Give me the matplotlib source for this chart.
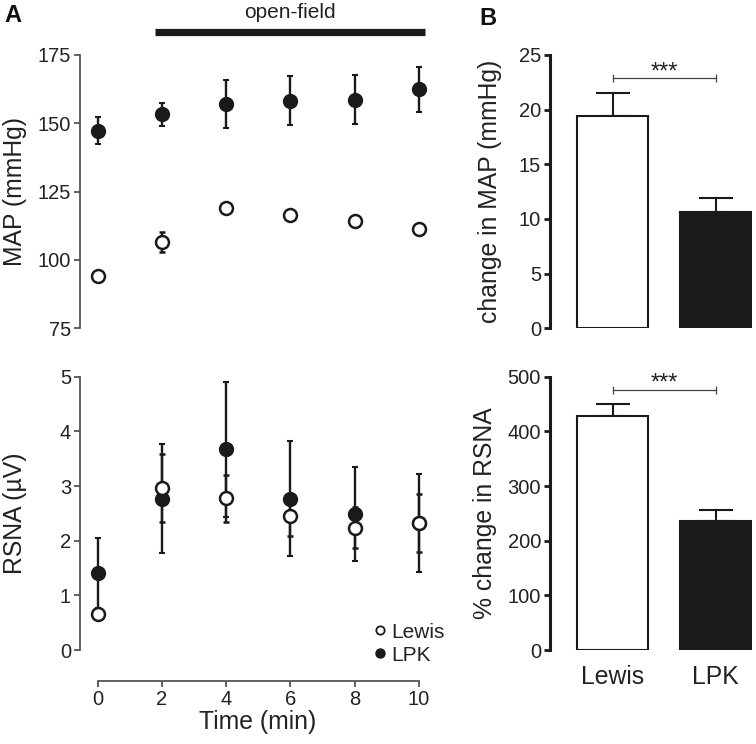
import matplotlib
matplotlib.use('Agg')
import matplotlib.pyplot as plt
from matplotlib.lines import Line2D

plt.rcParams['font.family'] = ['Liberation Sans', 'DejaVu Sans']
TXT = '#222222'
plt.rcParams['text.color'] = TXT
plt.rcParams['axes.labelcolor'] = TXT
plt.rcParams['xtick.color'] = TXT
plt.rcParams['ytick.color'] = TXT

# ---------------- data ----------------
time = [0, 2, 4, 6, 8, 10]
map_lewis = [93.9, 106.5, 118.8, 116.3, 114.1, 111.2]
map_lewis_err = [0.8, 3.5, 1.0, 1.0, 1.0, 1.7]
map_lpk = [147.3, 153.3, 156.9, 158.3, 158.6, 162.4]
map_lpk_err = [4.9, 4.2, 8.8, 9.0, 9.0, 8.3]

rsna_lewis = [0.65, 2.97, 2.78, 2.46, 2.24, 2.32]
rsna_lewis_err = [0.05, 0.62, 0.43, 0.38, 0.37, 0.53]
rsna_lpk = [1.41, 2.77, 3.67, 2.77, 2.48, 2.32]
rsna_lpk_err = [0.64, 1.00, 1.24, 1.05, 0.86, 0.90]

groups = ['Lewis', 'LPK']
map_change = [19.4, 10.6]
map_change_err = [2.1, 1.35]
rsna_change = [428, 236]
rsna_change_err = [22, 20]

# ---------------- figure ----------------
W, H = 756, 744
fig = plt.figure(figsize=(W / 100, H / 100), dpi=100)

def box(l, t, r, b):
    return [l / W, 1 - b / H, (r - l) / W, (b - t) / H]

ax1 = fig.add_axes(box(80, 55, 435, 328))
ax2 = fig.add_axes(box(80, 376.7, 435, 650))
ax3 = fig.add_axes(box(550, 55, 751.9, 328.3))
ax4 = fig.add_axes(box(550, 376.7, 751.9, 650))

GREY = '#555555'
INK = '#1a1a1a'
TICK_FS = 14.5
LAB_FS = 17.8

def style_left(ax):
    for s in ['top', 'right']:
        ax.spines[s].set_visible(False)
    ax.spines['left'].set_color(GREY)
    ax.spines['left'].set_linewidth(1.3)
    ax.spines['bottom'].set_color(GREY)
    ax.spines['bottom'].set_linewidth(1.3)
    ax.tick_params(axis='both', direction='out', length=4.5, width=1.3,
                   color=GREY, labelsize=TICK_FS, pad=2)
    ax.set_xlim(-0.55, 10.5)

def scatter(ax, lpk, lpk_err, lew, lew_err):
    ax.errorbar(time, lpk, yerr=lpk_err, fmt='o', color=INK,
                ms=10, mfc=INK, mec=INK, elinewidth=1.7,
                capsize=2.2, capthick=1.5, zorder=3)
    ax.errorbar(time, lew, yerr=lew_err, fmt='o', color=INK,
                ms=9.3, mfc='white', mec=INK, mew=1.8, elinewidth=1.7,
                capsize=2.2, capthick=1.5, zorder=4)

# --- A top: MAP ---
style_left(ax1)
scatter(ax1, map_lpk, map_lpk_err, map_lewis, map_lewis_err)
ax1.set_ylim(75, 175)
ax1.set_yticks([75, 100, 125, 150, 175])
ax1.spines['left'].set_bounds(75, 175)
ax1.spines['bottom'].set_visible(False)
ax1.set_xticks([])
ax1.set_ylabel('MAP (mmHg)', fontsize=LAB_FS)
ax1.yaxis.set_label_coords(-0.15, 0.5)
# open-field bar
ax1.plot([time[1] - 0.2, time[-1] + 0.2], [183.5, 183.5], color=INK,
         lw=5.2, solid_capstyle='butt', clip_on=False)
ax1.text((time[1] + time[-1]) / 2, 190.7, 'open-field', ha='center',
         va='center', fontsize=15, clip_on=False)

# --- A bottom: RSNA ---
style_left(ax2)
scatter(ax2, rsna_lpk, rsna_lpk_err, rsna_lewis, rsna_lewis_err)
ax2.set_ylim(0, 5)
ax2.set_yticks([0, 1, 2, 3, 4, 5])
ax2.spines['left'].set_bounds(0, 5)
ax2.spines['bottom'].set_position(('outward', 22))
ax2.spines['bottom'].set_bounds(0, 10)
ax2.set_xticks(time)
ax2.set_ylabel('RSNA (µV)', fontsize=LAB_FS)
ax2.yaxis.set_label_coords(-0.15, 0.5)
ax2.set_xlabel('Time (min)', fontsize=LAB_FS, labelpad=1)
handles = [
    Line2D([], [], ls='none', marker='o', ms=6, mfc='white', mec=INK, mew=1.3),
    Line2D([], [], ls='none', marker='o', ms=6.5, mfc=INK, mec=INK),
]
ax2.legend(handles, groups, loc='lower right', frameon=False,
           fontsize=15, handlelength=0.5, handletextpad=0.3,
           labelspacing=0.2, borderaxespad=0,
           bbox_to_anchor=(453 / W, 1 - 673 / H),
           bbox_transform=fig.transFigure)

# --- B bars ---
def style_bar(ax):
    for s in ['top', 'right', 'bottom']:
        ax.spines[s].set_visible(False)
    ax.spines['left'].set_color(INK)
    ax.spines['left'].set_linewidth(2.2)
    ax.tick_params(axis='y', direction='out', length=4.5, width=2.0,
                   color=INK, labelsize=TICK_FS, pad=2)
    ax.tick_params(axis='x', length=0, labelsize=LAB_FS, pad=11)
    ax.set_xlim(-0.61, 1.35)

def bars(ax, vals, errs):
    xs = list(range(len(groups)))
    ax.bar(xs, vals, width=0.69, color=['white', INK],
           edgecolor=INK, linewidth=1.5, zorder=2)
    ax.errorbar(xs, vals, yerr=[[0] * len(errs), errs], fmt='none',
                ecolor=INK, elinewidth=1.5, capsize=12, capthick=1.5,
                zorder=1)
    return xs

def bracket(ax, xs, y):
    ax.plot([xs[0], xs[1]], [y, y], color='#444444', lw=0.9,
            marker='|', ms=6, mew=0.9, clip_on=False)
    ax.text((xs[0] + xs[1]) / 2, y, '***', ha='center', va='baseline',
            fontsize=17, color=TXT)

style_bar(ax3)
xs = bars(ax3, map_change, map_change_err)
ax3.set_ylim(0, 25)
ax3.set_yticks([0, 5, 10, 15, 20, 25])
ax3.spines['left'].set_bounds(0, 25)
ax3.set_xticks([])
ax3.set_ylabel('change in MAP (mmHg)', fontsize=LAB_FS)
ax3.yaxis.set_label_coords(-0.238, 0.5)
bracket(ax3, xs, 22.87)

style_bar(ax4)
xs = bars(ax4, rsna_change, rsna_change_err)
ax4.set_ylim(0, 500)
ax4.set_yticks([0, 100, 200, 300, 400, 500])
ax4.spines['left'].set_bounds(0, 500)
ax4.set_xticks(xs)
ax4.set_xticklabels(groups)
ax4.set_ylabel('% change in RSNA', fontsize=LAB_FS)
ax4.yaxis.set_label_coords(-0.262, 0.5)
bracket(ax4, xs, 475.7)

# panel letters
fig.text(12.5 / W, 1 - 15.5 / H, 'A', fontsize=17, fontweight='bold',
         ha='center', va='center', color='#111111')
fig.text(488 / W, 1 - 18.5 / H, 'B', fontsize=17, fontweight='bold',
         ha='center', va='center', color='#111111')

fig.savefig('out.png', dpi=100)
